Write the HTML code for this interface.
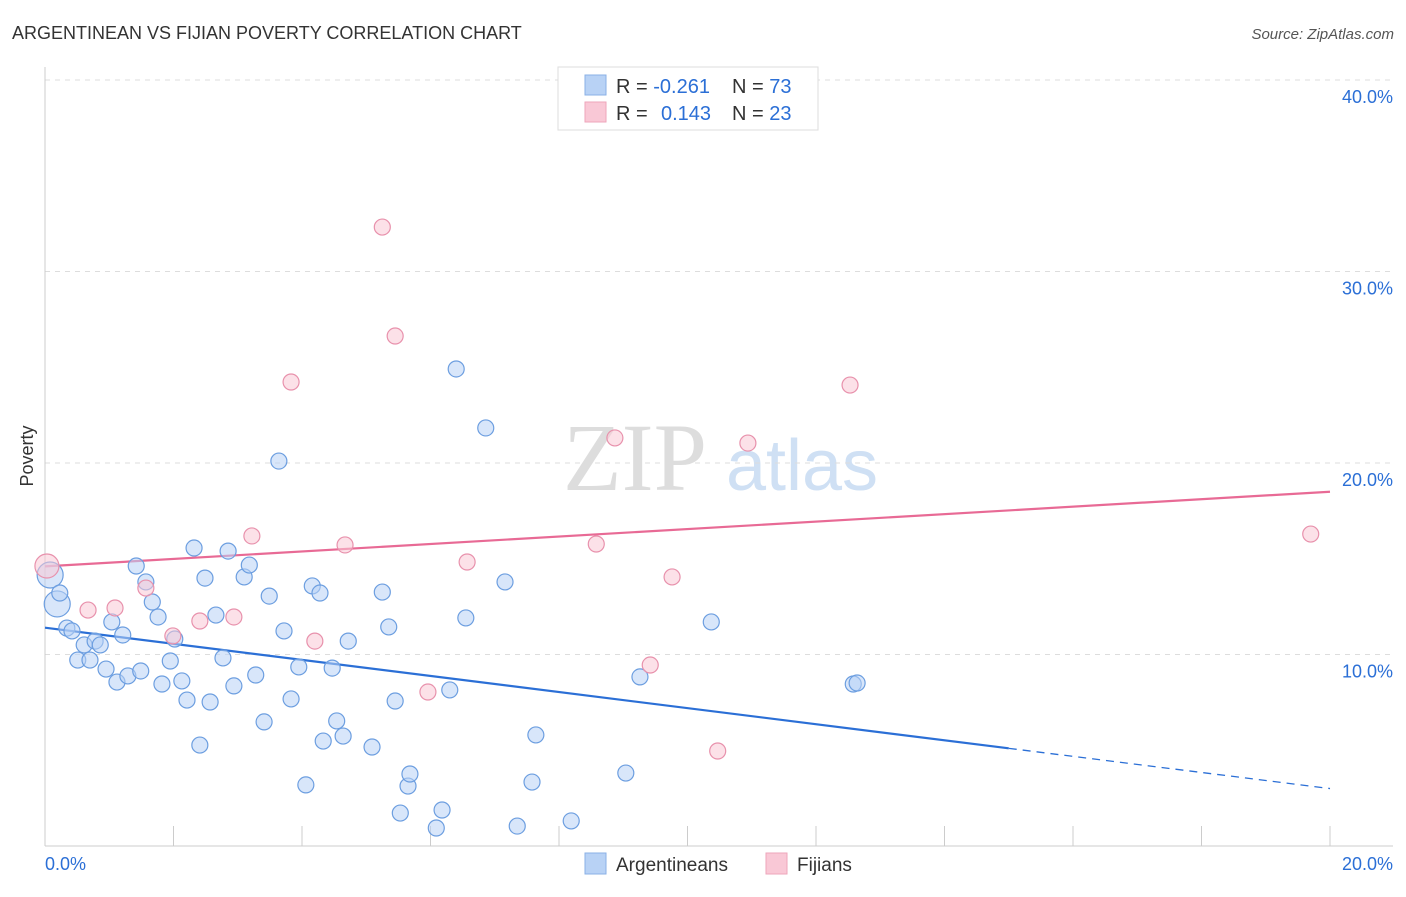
<!DOCTYPE html>
<html><head><meta charset="utf-8"><style>
body{margin:0;background:#fff;font-family:"Liberation Sans",sans-serif;}
svg text{font-family:"Liberation Sans",sans-serif;}
</style></head><body>
<svg id="chart" width="1406" height="892">
<text x="12" y="39" font-size="18" fill="#333">ARGENTINEAN VS FIJIAN POVERTY CORRELATION CHART</text>
<text x="1394" y="39" font-size="15" fill="#555" font-style="italic" text-anchor="end">Source: ZipAtlas.com</text>
<g>
<text x="635" y="490" font-size="96" fill="#ddd" font-family="Liberation Serif" text-anchor="middle" style="font-family:'Liberation Serif',serif">ZIP</text>
<text x="802" y="490" font-size="72" fill="#cfe0f4" text-anchor="middle">atlas</text>
</g>
<text transform="translate(33,456) rotate(-90)" font-size="18" fill="#333" text-anchor="middle">Poverty</text>
<g id="grid"></g><g id="axes"></g><g id="lines"></g><g id="pts"></g>
<g>
<rect x="558" y="67" width="260" height="63" fill="#fff" stroke="#ddd"/>
<rect x="585" y="75" width="21" height="20" fill="#b8d2f5" stroke="#8ab0e6"/>
<rect x="585" y="102" width="21" height="20" fill="#f9c8d6" stroke="#eea6bb"/>
<text x="616" y="93" font-size="20" fill="#333">R = <tspan fill="#2b6fd6">-0.261</tspan></text>
<text x="732" y="93" font-size="20" fill="#333">N = <tspan fill="#2b6fd6">73</tspan></text>
<text x="616" y="120" font-size="20" fill="#333">R = <tspan fill="#2b6fd6" x="661">0.143</tspan></text>
<text x="732" y="120" font-size="20" fill="#333">N = <tspan fill="#2b6fd6">23</tspan></text>
</g>
<g>
<rect x="585" y="853" width="21" height="21" fill="#b8d2f5" stroke="#8ab0e6"/>
<text x="616" y="871" font-size="19" fill="#333">Argentineans</text>
<rect x="766" y="853" width="21" height="21" fill="#f9c8d6" stroke="#eea6bb"/>
<text x="797" y="871" font-size="19" fill="#333">Fijians</text>
</g>
</svg>
<script>
const blueX=[0.08,0.19,0.23,0.34,0.42,0.51,0.61,0.70,0.78,0.86,0.95,1.04,1.12,1.21,1.29,1.42,1.49,1.57,1.67,1.76,1.82,1.95,2.02,2.13,2.21,2.32,2.41,2.49,2.57,2.66,2.77,2.85,2.94,3.10,3.18,3.28,3.41,3.49,3.64,3.72,3.83,3.95,4.06,4.16,4.28,4.33,4.47,4.54,4.64,4.72,5.09,5.25,5.35,5.45,5.53,5.65,5.68,6.09,6.18,6.30,6.40,6.55,6.86,7.16,7.35,7.58,7.64,8.19,9.04,9.26,10.37,12.58,12.64];
const blueY=[14.15,12.64,13.21,11.38,11.23,9.71,10.50,9.71,10.70,10.50,9.24,11.70,8.56,11.02,8.88,14.62,9.14,13.79,12.74,11.96,8.46,9.66,10.81,8.62,7.62,15.56,5.27,13.99,7.52,12.06,9.82,15.40,8.36,14.05,14.67,8.93,6.48,13.05,20.10,11.23,7.68,9.35,3.19,13.58,13.21,5.48,9.29,6.53,5.74,10.70,5.17,13.26,11.44,7.57,1.72,3.13,3.76,0.94,1.88,8.15,24.91,11.91,21.83,13.79,1.04,3.34,5.80,1.31,3.81,8.83,11.70,8.46,8.51];
const pinkX=[0.03,0.67,1.09,1.57,1.99,2.41,2.94,3.22,3.83,4.20,4.67,5.25,5.45,5.96,6.57,8.58,8.87,9.42,9.76,10.47,10.94,12.53,19.70];
const pinkY=[14.62,12.32,12.43,13.47,10.97,11.75,11.96,16.19,24.23,10.70,15.72,32.32,26.63,8.04,14.83,15.77,21.31,9.45,14.05,4.96,21.04,24.07,16.29];
const yTicks=[10,20,30,40];
const yTickLabels=["10.0%","20.0%","30.0%","40.0%"];
const xTicks=[0,2,4,6,8,10,12,14,16,18,20];
const blueTrend=[11.4,3.0];const pinkTrend=[14.6,18.5];
const sx=v=>45+v*64.25, sy=v=>846-v*19.15;
const NS="http://www.w3.org/2000/svg";
function mk(t,a,p){const e=document.createElementNS(NS,t);for(const k in a)e.setAttribute(k,a[k]);document.getElementById(p).appendChild(e);return e;}
yTicks.forEach((t,i)=>{
 const g=mk('line',{x1:45,x2:1393,y1:sy(t),y2:sy(t),stroke:'#ddd','stroke-dasharray':'5,5'},'grid');
 
 
 const l=mk('text',{x:1393,y:sy(t)+23,'font-size':18,fill:'#2b6fd6','text-anchor':'end'},'grid');l.textContent=yTickLabels[i];
 
 
});
mk('line',{x1:45,x2:1393,y1:80,y2:80,stroke:'#ddd','stroke-dasharray':'5,5'},'grid');
mk('line',{x1:45,x2:45,y1:67,y2:846,stroke:'#ccc'},'axes');
mk('line',{x1:45,x2:1393,y1:846,y2:846,stroke:'#ccc'},'axes');
xTicks.forEach(t=>{const e=mk('line',{x1:sx(t),x2:sx(t),y1:826,y2:846,stroke:'#ccc'},'axes');
 
 });
let a=mk('text',{x:45,y:870,'font-size':18,fill:'#2b6fd6'},'axes');a.textContent='0.0%';


a=mk('text',{x:1393,y:870,'font-size':18,fill:'#2b6fd6','text-anchor':'end'},'axes');a.textContent='20.0%';


function pt(x,y,c,s,r){const e=mk('circle',{cx:sx(x),cy:sy(y),r:r,fill:c,'fill-opacity':0.55,stroke:s,'stroke-width':1.2},'pts');return e;}
blueX.forEach((x,i)=>{const e=pt(x,blueY[i],'#b8d2f5','#6c9ee0',i<2?13:8);
 
 });
pinkX.forEach((x,i)=>{const e=pt(x,pinkY[i],'#f9c8d6','#e891ac',i<1?12:8);
 
 });
const by=x=>blueTrend[0]+(blueTrend[1]-blueTrend[0])*x/20;
let l=mk('line',{x1:sx(0),y1:sy(by(0)),x2:sx(15),y2:sy(by(15)),stroke:'#2b6fd6','stroke-width':2.2},'lines');


l=mk('line',{x1:sx(15),y1:sy(by(15)),x2:sx(20),y2:sy(by(20)),stroke:'#2b6fd6','stroke-width':1.3,'stroke-dasharray':'8,6'},'lines');


l=mk('line',{x1:sx(0),y1:sy(pinkTrend[0]),x2:sx(20),y2:sy(pinkTrend[1]),stroke:'#e86a95','stroke-width':2.2},'lines');


</script>
</body></html>
